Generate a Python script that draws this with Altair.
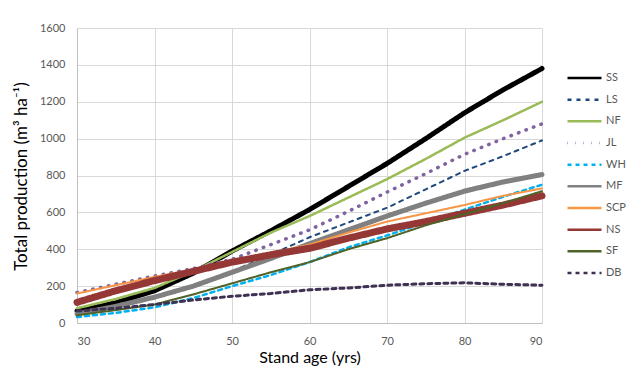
import altair as alt
import pandas as pd

ages = [30, 35, 40, 45, 50, 55, 60, 65, 70, 75, 80, 85, 90]
series = ["SS", "LS", "NF", "JL", "WH", "MF", "SCP", "NS", "SF", "DB"]

SS = [65, 110, 175, 270, 390, 500, 615, 740, 865, 1000, 1140, 1265, 1380]
LS = [55, 90, 140, 205, 280, 370, 465, 545, 625, 725, 825, 905, 990]
NF = [80, 130, 190, 280, 385, 490, 580, 680, 780, 890, 1005, 1100, 1200]
JL = [165, 210, 255, 295, 345, 425, 505, 605, 710, 810, 915, 1000, 1080]
WH = [32, 55, 85, 135, 200, 260, 330, 410, 475, 545, 615, 685, 750]
MF = [50, 90, 140, 200, 275, 350, 430, 505, 580, 650, 715, 765, 805]
SCP = [160, 205, 250, 290, 340, 380, 425, 490, 550, 595, 640, 690, 730]
NS = [112, 175, 230, 280, 330, 370, 405, 460, 510, 550, 595, 640, 690]
SF = [42, 70, 100, 155, 215, 275, 330, 400, 460, 530, 590, 650, 715]
DB = [65, 80, 100, 125, 145, 160, 180, 190, 205, 213, 218, 210, 205]

values = [SS, LS, NF, JL, WH, MF, SCP, NS, SF, DB]

# styles
colors = ["#000000", "#1F497D", "#9BBB59", "#8064A2", "#00B0F0",
          "#808080", "#F79646", "#953735", "#4F6228", "#3F3151"]
dashes = [[1, 0], [4, 5], [1, 0], [0.5, 7.5], [4, 4],
          [1, 0], [1, 0], [1, 0], [1, 0], [4, 4]]
widths = [5, 2, 2.5, 3.5, 2.5, 5, 2, 7, 2, 3]

rows = []
for s, vals, w in zip(series, values, widths):
    for a, v in zip(ages, vals):
        rows.append({"age": a, "prod": v, "series": s, "w": w})
df = pd.DataFrame(rows)

FONT = "Lato"

legend_kw = dict(title=None, orient="none", legendX=489, legendY=43,
                 symbolType="stroke", symbolSize=1156,
                 symbolStrokeWidth=2.5, clipHeight=14,
                 rowPadding=7.67, labelOffset=3, padding=0,
                 labelFont=FONT, labelFontSize=11,
                 labelColor="#595959")

chart = alt.Chart(df).mark_line(strokeCap="round", strokeJoin="round").encode(
    x=alt.X("age:Q",
            scale=alt.Scale(domain=[30, 90], nice=False),
            axis=alt.Axis(values=[30, 40, 50, 60, 70, 80, 90], title="Stand age (yrs)",
                          format="d", titleFontSize=16,
                          titleX=232.5, titleY=34, titleBaseline="middle",
                          labelPadding=12)),
    y=alt.Y("prod:Q",
            scale=alt.Scale(domain=[0, 1600], nice=False),
            axis=alt.Axis(values=list(range(0, 1601, 200)), title="Total production (m³ ha⁻¹)",
                          format="d", titleFontSize=17,
                          titleX=-56, titleY=148, titleAngle=-90, titleAlign="center",
                          titleBaseline="middle", labelPadding=12)),
    color=alt.Color("series:N", scale=alt.Scale(domain=series, range=colors),
                    legend=alt.Legend(**legend_kw)),
    strokeDash=alt.StrokeDash("series:N", scale=alt.Scale(domain=series, range=dashes),
                              legend=alt.Legend(**legend_kw)),
    strokeWidth=alt.StrokeWidth("w:Q", scale=None, legend=None),
    order=alt.Order("age:Q"),
).properties(
    width=465, height=295,
    background="white",
    autosize=alt.AutoSizeParams(type="none"),
    padding={"left": 69, "top": 20, "right": 86, "bottom": 43},
).configure_view(stroke=None).configure_axis(
    grid=True, gridColor="#D9D9D9", gridWidth=1,
    domainColor="#BFBFBF", domainWidth=1, ticks=False,
    labelFont=FONT, labelFontSize=11, labelColor="#595959",
    titleFont=FONT, titleFontWeight="normal", titleColor="#000000",
)

chart.save("out.html", embed_options={"renderer": "svg", "actions": False})
